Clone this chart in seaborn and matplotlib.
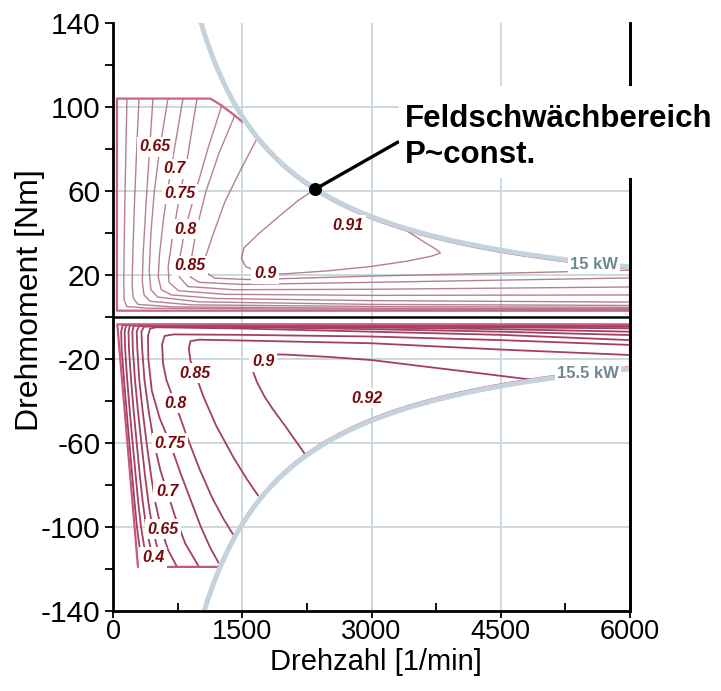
import numpy as np
import pandas as pd
import matplotlib
matplotlib.use("Agg")
import matplotlib.pyplot as plt
from matplotlib.patches import Rectangle
import seaborn as sns

# ---------------------------------------------------------------
# Machine data
# ---------------------------------------------------------------
P_MOTOR_KW = 15.0      # power limit, motoring
P_GEN_KW = 15.5        # power limit, generating
N_MAX = 6000           # 1/min
OPERATING_POINT_N = 2350   # start of field weakening (1/min)

# Envelope of the motoring region: corner points up to the power limit
motor_env_n = [6000, 6000, 46, 46, 1130, 1250, 1380, 1500]
motor_env_t = [23.1, 3.0, 3.0, 104.0, 104.0, 101.0, 97.0, 93.0]

# Envelope of the generating region: corner points up to the power limit
gen_env_n = [6000, 6000, 50, 290, 1244]
gen_env_t = [-24.0, -3.5, -3.5, -119.0, -119.0]

# Efficiency iso-lines, motoring (speed 1/min, torque Nm)
mot_040_n = [162, 150, 138, 128, 125, 130, 160, 400, 2000, 6000]
mot_040_t = [104, 80, 55, 30, 15, 8, 5, 4.2, 3.8, 3.6]
mot_050_n = [302, 275, 250, 230, 222, 235, 290, 700, 3000, 6000]
mot_050_t = [104, 80, 55, 30, 15, 9, 6, 4.8, 4.2, 4.0]
mot_060_n = [464, 425, 385, 350, 340, 360, 430, 900, 3000, 6000]
mot_060_t = [104, 80, 55, 30, 17, 10.5, 7.5, 5.8, 5.0, 4.6]
mot_065_n = [638, 545, 480, 440, 420, 440, 520, 1000, 3000, 6000]
mot_065_t = [104, 81, 60, 40, 22, 13, 9.5, 7.2, 6.0, 5.5]
mot_070_n = [812, 673, 590, 540, 525, 560, 680, 1200, 3000, 6000]
mot_070_t = [104, 70.5, 48, 30, 19, 13, 10.5, 8.8, 7.8, 7.1]
mot_075_n = [975, 860, 777, 690, 640, 650, 760, 1300, 3000, 6000]
mot_075_t = [104, 75, 58.6, 38, 24, 16.5, 12.5, 10.8, 10.3, 10.5]
mot_080_n = [1265, 1100, 960, 836, 770, 770, 870, 1400, 3000, 6000]
mot_080_t = [101, 80, 60, 41.9, 27, 19, 14.5, 13.0, 13.2, 14.3]
mot_085_n = [1416, 1230, 1080, 970, 894, 900, 1000, 1500, 3000, 6000]
mot_085_t = [96.3, 78, 60, 42, 24.3, 19, 16.5, 15.5, 16.5, 18.6]
mot_088_n = [1671, 1480, 1300, 1150, 1060, 1070, 1180, 1600, 3000, 5000, 6000]
mot_088_t = [84.9, 70, 55, 38, 27, 21.5, 18.5, 17.8, 19.5, 21.3, 22.3]
mot_090_n = [2350, 2150, 1900, 1700, 1520, 1490, 1540, 1700, 1973, 2500, 2982,
             3400, 3700, 3800, 3740, 3600, 3450, 3300]
mot_090_t = [60.95, 55.5, 47, 40, 33, 28, 24, 21.3, 20.5, 22, 24,
             26.5, 29, 30.5, 32.5, 36, 40, 43.4]

# Efficiency iso-lines, generating (speed 1/min, torque Nm)
gen_020_n = [6000, 3000, 150, 110, 95, 100, 128, 158, 190, 222, 250, 278, 310, 352]
gen_020_t = [-3.9, -3.7, -3.7, -4.0, -7, -15, -30, -45, -60, -75, -88, -100, -110, -119]
gen_030_n = [6000, 3000, 200, 150, 135, 140, 165, 195, 228, 262, 292, 325, 365, 429]
gen_030_t = [-4.2, -3.9, -3.8, -4.0, -7, -15, -30, -45, -60, -75, -88, -100, -110, -119]
gen_040_n = [6000, 3000, 1500, 250, 195, 180, 185, 210, 240, 275, 310, 345, 385, 435, 506]
gen_040_t = [-4.7, -4.1, -3.9, -3.9, -4.1, -7, -15, -30, -45, -60, -75, -88, -100, -110, -119]
gen_060_n = [6000, 3000, 1500, 300, 240, 225, 230, 255, 290, 330, 370, 410, 455, 515, 603]
gen_060_t = [-5.4, -4.5, -4.1, -4.1, -4.3, -7, -15, -30, -45, -60, -75, -88, -100, -110, -119]
gen_065_n = [6000, 4500, 3000, 1500, 400, 300, 275, 282, 305, 345, 390, 440, 490, 560, 640, 743]
gen_065_t = [-7.0, -5.8, -5.0, -4.4, -4.3, -4.4, -7, -15, -30, -45, -60, -75, -88, -101, -111, -119]
gen_070_n = [6000, 4500, 3000, 1500, 500, 360, 330, 338, 365, 415, 475, 550, 627, 720, 840, 998]
gen_070_t = [-8.6, -7.0, -5.8, -4.8, -4.5, -4.6, -7, -15, -30, -45, -60, -73, -83, -95, -108, -119]
gen_075_n = [6000, 4500, 3000, 1500, 500, 430, 406, 410, 450, 540, 661, 780, 900, 1020, 1130, 1225]
gen_075_t = [-11.0, -8.5, -7.0, -5.5, -4.9, -5.5, -9, -20, -35, -48, -60, -74, -87, -100, -110, -117]
gen_080_n = [6000, 4500, 3000, 1500, 700, 600, 570, 580, 620, 720, 850, 1000, 1150, 1280, 1393]
gen_080_t = [-13.3, -11.0, -9.3, -8.5, -8.3, -9, -13, -22, -30, -41, -56, -72, -86, -96, -103.5]
gen_085_n = [6000, 4500, 3000, 1500, 1000, 900, 880, 900, 952, 1050, 1200, 1400, 1550, 1683]
gen_085_t = [-18.1, -15.5, -12.5, -11.2, -10.8, -11.5, -15, -21, -26.7, -38, -52, -67, -77, -85]
gen_090_n = [4850, 4000, 3000, 2500, 2000, 1750, 1640, 1613, 1625, 1671, 1760, 1857, 2000,
             2120, 2228]
gen_090_t = [-29.8, -25.5, -20.5, -19.0, -17.9, -17.8, -18.5, -21, -26, -31, -38, -44, -52,
             -59, -65.3]

# Iso-line labels: text, speed, torque
mot_labels = [("0.65", 487, 81), ("0.7", 708, 70.5), ("0.75", 777, 58.6),
              ("0.8", 836, 41.9), ("0.85", 894, 24.3), ("0.9", 1764, 20.5),
              ("0.91", 2727, 43.8)]
gen_labels = [("0.9", 1741, -21.4), ("0.85", 952, -26.7), ("0.8", 720, -41),
              ("0.75", 661, -60), ("0.7", 627, -83), ("0.65", 580, -101),
              ("0.4", 464, -114.6), ("0.92", 2948, -38.6)]

# Axis ticks
x_major = [0, 1500, 3000, 4500, 6000]
x_minor = [750, 2250, 3750, 5250]
y_major = [-140, -100, -60, -20, 20, 60, 100, 140]
y_minor = [-120, -80, -40, 0, 40, 80, 120]
x_grid = [1500, 3000, 4500]
y_grid = [-100, -60, -20, 20, 60, 100]


def power_torque(p_kw, n):
    """Torque in Nm at constant power p_kw for speed n in 1/min."""
    return p_kw * 1000.0 / (2 * np.pi * np.asarray(n, dtype=float) / 60.0)


def long_frame(lines):
    frames = []
    for name, (n, t) in lines.items():
        frames.append(pd.DataFrame({"n": n, "T": t, "line": name}))
    return pd.concat(frames, ignore_index=True)


mot_lines = {
    "0.40": (mot_040_n, mot_040_t), "0.50": (mot_050_n, mot_050_t),
    "0.60": (mot_060_n, mot_060_t), "0.65": (mot_065_n, mot_065_t),
    "0.70": (mot_070_n, mot_070_t), "0.75": (mot_075_n, mot_075_t),
    "0.80": (mot_080_n, mot_080_t), "0.85": (mot_085_n, mot_085_t),
    "0.88": (mot_088_n, mot_088_t), "0.90": (mot_090_n, mot_090_t),
}
gen_lines = {
    "0.20": (gen_020_n, gen_020_t), "0.30": (gen_030_n, gen_030_t),
    "0.40": (gen_040_n, gen_040_t), "0.60": (gen_060_n, gen_060_t),
    "0.65": (gen_065_n, gen_065_t), "0.70": (gen_070_n, gen_070_t),
    "0.75": (gen_075_n, gen_075_t), "0.80": (gen_080_n, gen_080_t),
    "0.85": (gen_085_n, gen_085_t), "0.90": (gen_090_n, gen_090_t),
}

# Envelopes, closed along the power limit (drawn just inside it)
n_mot_limit = np.linspace(1500, N_MAX, 120)
mot_env = pd.DataFrame({
    "n": motor_env_n + list(n_mot_limit),
    "T": motor_env_t + list(power_torque(P_MOTOR_KW, n_mot_limit) - 0.8),
})
n_gen_limit = np.linspace(gen_env_n[-1], N_MAX, 120)
gen_env = pd.DataFrame({
    "n": gen_env_n + list(n_gen_limit),
    "T": gen_env_t + list(-power_torque(P_GEN_KW, n_gen_limit) + 0.8),
})

# ---------------------------------------------------------------
# Figure
# ---------------------------------------------------------------
sns.set_theme(style="white")
plt.rcParams["font.family"] = ["Liberation Sans", "DejaVu Sans"]
plt.rcParams["axes.unicode_minus"] = False
plt.rcParams["text.color"] = "black"
plt.rcParams["axes.labelcolor"] = "black"
plt.rcParams["xtick.color"] = "black"
plt.rcParams["ytick.color"] = "black"

fig = plt.figure(figsize=(7.21, 6.91), dpi=100)
ax = fig.add_axes([113 / 721, 80 / 691, 517 / 721, 588 / 691])
ax.set_xlim(0, N_MAX)
ax.set_ylim(-140, 140)

grid_c = "#c8d5de"
for x in x_grid:
    ax.axvline(x, color=grid_c, lw=1.3, zorder=0)
for y in y_grid:
    ax.axhline(y, color=grid_c, lw=1.3, zorder=0)

iso_kw = dict(x="n", y="T", units="line", estimator=None, sort=False,
              legend=False, ax=ax)
sns.lineplot(data=long_frame(mot_lines), color="#a86a80", lw=1.0, alpha=0.85,
             zorder=2, **iso_kw)
sns.lineplot(data=long_frame(gen_lines), color="#a2405e", lw=1.3,
             zorder=2, **iso_kw)
sns.lineplot(data=mot_env, x="n", y="T", estimator=None, sort=False,
             color="#c8647e", lw=1.6, zorder=2, ax=ax)
sns.lineplot(data=gen_env, x="n", y="T", estimator=None, sort=False,
             color="#c8587a", lw=1.6, zorder=2, ax=ax)

# Power limit curves
n_curve = np.linspace(900, N_MAX, 300)
lim = pd.DataFrame({"n": n_curve, "motor": power_torque(P_MOTOR_KW, n_curve),
                    "gen": -power_torque(P_GEN_KW, n_curve)})
sns.lineplot(data=lim, x="n", y="motor", color="#c3d2dc", lw=3.6, zorder=3, ax=ax)
sns.lineplot(data=lim, x="n", y="gen", color="#c3d2dc", lw=3.6, zorder=3, ax=ax)

# zero-torque line and right border
ax.axhline(0, color="black", lw=1.8, zorder=4)
ax.axvline(N_MAX, color="black", lw=2.0, zorder=9, clip_on=False)

lab_kw = dict(ha="center", va="center", fontsize=11.5, fontweight="bold",
              fontstyle="italic", color="#780a0a", zorder=6,
              bbox=dict(boxstyle="square,pad=0.18", fc="white", ec="none"))
for s, n, t in mot_labels + gen_labels:
    ax.text(n, t, s, **lab_kw)

pw_kw = dict(ha="center", va="center", fontsize=12, fontweight="bold",
             color="#6f8893", zorder=6,
             bbox=dict(boxstyle="square,pad=0.1", fc="white", ec="none"))
ax.text(5582, 25.2, f"{P_MOTOR_KW:g} kW", **pw_kw)
ax.text(5512, -26.9, f"{P_GEN_KW:g} kW", **pw_kw)

# Field-weakening annotation
t_op = float(power_torque(P_MOTOR_KW, OPERATING_POINT_N))
ax.plot([OPERATING_POINT_N, 3307], [t_op, 83.3], color="black", lw=2.4,
        zorder=7, clip_on=False)
ax.scatter([OPERATING_POINT_N], [t_op], s=70, color="black", zorder=8)

fig.patches.append(Rectangle((399 / 721, 1 - 178 / 691), (721 - 399) / 721,
                             (178 - 86) / 691, transform=fig.transFigure,
                             fc="white", ec="none", zorder=5))
fig.text(405 / 721, 1 - 127 / 691, "Feldschwächbereich", fontsize=22.5,
         fontweight="bold", color="black", ha="left", va="baseline", zorder=9)
fig.text(405 / 721, 1 - 163 / 691, "P~const.", fontsize=22.5,
         fontweight="bold", color="black", ha="left", va="baseline", zorder=9)

# Axes, ticks, labels
ax.set_xticks(x_major)
ax.set_xticks(x_minor, minor=True)
ax.set_yticks(y_major)
ax.set_yticks(y_minor, minor=True)
ax.tick_params(axis="x", which="major", direction="out", length=5, width=1.3,
               labelsize=19.5, pad=1, color="black", labelcolor="black")
ax.tick_params(axis="x", which="minor", direction="in", length=6, width=1.3,
               color="black")
ax.tick_params(axis="y", which="both", direction="out", length=6, width=1.3,
               labelsize=21.5, pad=3, color="black", labelcolor="black")
ax.tick_params(axis="both", which="both", bottom=True, left=True)
for side in ("left", "bottom", "right"):
    ax.spines[side].set_visible(True)
    ax.spines[side].set_color("black")
    ax.spines[side].set_linewidth(2.0)
    ax.spines[side].set_zorder(10)
ax.spines["top"].set_visible(False)

ax.set_xlabel("Drehzahl [1/min]", fontsize=21, color="black")
ax.set_ylabel("Drehmoment [Nm]", fontsize=23, color="black")
ax.xaxis.set_label_coords((376 - 113) / 517, (611 - 648) / 588)
ax.yaxis.set_label_coords((45 - 113) / 517, (611 - 300) / 588)

fig.savefig("out.png", dpi=100, facecolor="white")
